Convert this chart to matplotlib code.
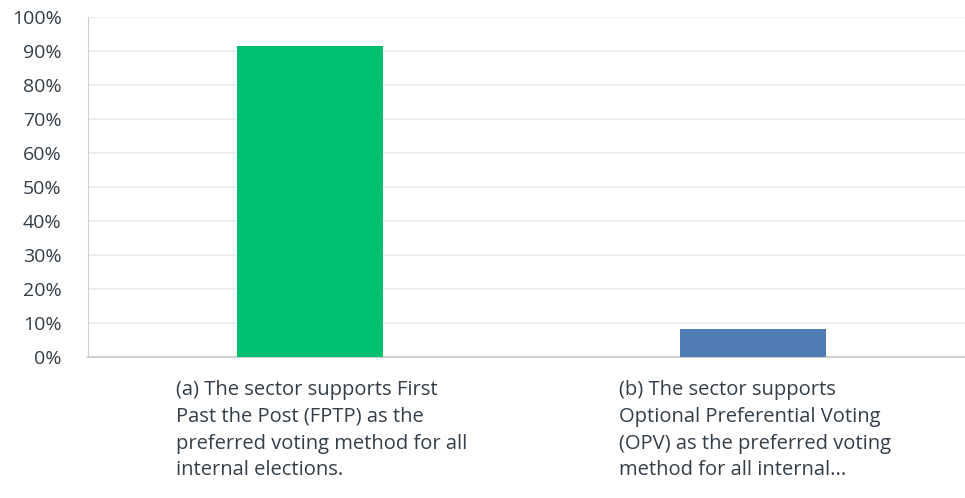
import numpy as np
import matplotlib.pyplot as plt
import matplotlib.transforms as mtransforms

# survey answers
labels = ["(a) The sector supports First\nPast the Post (FPTP) as the\npreferred voting method for all\ninternal elections.",
          "(b) The sector supports\nOptional Preferential Voting\n(OPV) as the preferred voting\nmethod for all internal..."]
values = [91.5, 8.3]
colors = ["#00bf6f", "#507cb6"]
yticks = np.arange(0, 101, 10)

plt.rcParams['font.family'] = ['Open Sans', 'DejaVu Sans']
txt = "#333e48"

fig = plt.figure(figsize=(9.65, 4.98), dpi=100)
ax = fig.add_axes([88/965, 141/498, 887/965, 340/498])

x = np.arange(len(values))
ax.bar(x, values, width=0.33, color=colors, zorder=3)

ax.set_ylim(0, 100)
ax.set_xlim(-0.5, 1.5)
ax.set_yticks(yticks)
ax.set_yticklabels([f"{t}%" for t in yticks], fontsize=14, color=txt)
ax.tick_params(axis='y', length=0, pad=19)
ax.set_xticks([])
ax.grid(axis='y', color="#ececec", linewidth=1.2, zorder=0)

for s in ['top', 'right']:
    ax.spines[s].set_visible(False)
ax.spines['left'].set_color("#d0d0d0")
ax.spines['bottom'].set_color("#d0d0d0")
ax.spines['bottom'].set_linewidth(1.5)

trans = mtransforms.blended_transform_factory(ax.transData, ax.transAxes)
for xi, lab in zip(x, labels):
    ax.text(xi - 0.302, -0.068, lab, transform=trans, ha='left', va='top',
            fontsize=14.5, color=txt, linespacing=1.45)

fig.savefig("out.png", dpi=100)
